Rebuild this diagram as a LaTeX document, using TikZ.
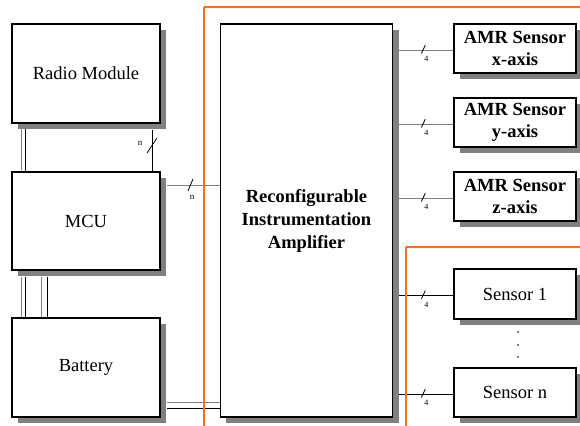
\documentclass[tikz,border=0pt]{standalone}
\usepackage{fontspec}
\setmainfont{Liberation Serif}
\usetikzlibrary{calc,shadows,backgrounds}
\definecolor{frameorange}{RGB}{250,110,20}
\definecolor{shadowgray}{RGB}{128,128,128}
\tikzset{
  blk/.style={draw=black, line width=1.2pt, fill=white, inner sep=0pt, align=center,
    font=\fontsize{18.5}{21}\selectfont,
    drop shadow={shadow xshift=6pt, shadow yshift=-6pt, fill=shadowgray, opacity=1}},
  bblk/.style={blk, font=\fontsize{18.5}{22}\selectfont\bfseries},
  ampblk/.style={blk, font=\fontsize{18.5}{23}\selectfont\bfseries},
  gline/.style={draw=shadowgray, line width=0.9pt},
  kline/.style={draw=black, line width=0.9pt},
  slash/.style={draw=black, line width=0.8pt},
  smalllab/.style={font=\fontsize{9}{9}\selectfont, inner sep=0pt},
  fourlab/.style={font=\fontsize{8}{8}\selectfont, inner sep=0pt},
  frame/.style={draw=frameorange, line width=1.6pt}
}
\begin{document}
\begin{tikzpicture}[x=1pt,y=-1pt]
\useasboundingbox (0,0) rectangle (580,425);
\clip (0,0) rectangle (580,425);
% nodes
\node[blk, minimum width=148pt, minimum height=99pt] (radio) at (86,73.5) {Radio Module};
\node[blk, minimum width=148pt, minimum height=98pt] (mcu) at (86,221) {MCU};
\node[blk, minimum width=148pt, minimum height=99pt] (batt) at (86,367.5) {Battery};
\node[ampblk, minimum width=172.5pt, minimum height=393pt] (amp) at (306.5,220.5) {Reconfigurable\\Instrumentation\\Amplifier};
\node[bblk, minimum width=122pt, minimum height=49pt] (amrx) at (515,48.5) {AMR Sensor\\x-axis};
\node[bblk, minimum width=122pt, minimum height=49pt] (amry) at (515,122.5) {AMR Sensor\\y-axis};
\node[bblk, minimum width=122pt, minimum height=49pt] (amrz) at (515,196.5) {AMR Sensor\\z-axis};
\node[blk, minimum width=122pt, minimum height=50pt] (s1) at (515,294) {Sensor 1};
\node[blk, minimum width=122pt, minimum height=49pt] (sn) at (515,392.5) {Sensor n};
% dots
\foreach \yy in {332,345,357}
  \fill (518,\yy) circle (0.8pt);
\begin{pgfonlayer}{background}
\fill[white] (0,0) rectangle (580,425);
% Radio - MCU
\draw[gline] ($(radio.south west)+(9.7,0)$) -- ($(mcu.north west)+(9.7,0)$);
\draw[kline] ($(radio.south west)+(14,0)$) -- ($(mcu.north west)+(14,0)$);
\draw[kline] ($(radio.south east)+(-8,6)$) coordinate (rm) -- ($(mcu.north east)+(-8,0)$);
\draw[slash] (147,153) -- (157,138);
\node[smalllab] (nlab1) at (140,143) {n};
% MCU - Battery
\draw[gline] ($(mcu.south west)+(9.7,6)$) -- ($(batt.north west)+(9.7,0)$);
\draw[kline] ($(mcu.south west)+(14,6)$) -- ($(batt.north west)+(14,0)$);
\draw[gline] ($(mcu.south west)+(30.3,6)$) -- ($(batt.north west)+(30.3,0)$);
\draw[kline] ($(mcu.south west)+(36,6)$) -- ($(batt.north west)+(36,0)$);
% MCU - Amp
\draw[gline] ($(mcu.east)+(6,-36)$) coordinate (ma) -- (ma -| amp.west);
\draw[slash] (188,191) -- (193,179);
\node[smalllab] (nlab2) at (192,197.5) {n};
% Battery - Amp
\draw[gline] ($(batt.east)+(6,34.5)$) coordinate (ba1) -- (ba1 -| amp.west);
\draw[kline] ($(batt.east)+(6,40.5)$) coordinate (ba2) -- (ba2 -| amp.west);
% Amp - AMR
\foreach \t in {amrx,amry,amrz}{
  \draw[gline] (\t.west -| amp.east) ++(6,1.5) coordinate (c\t) -- ($(\t.west)+(0,1.5)$);
  \draw[slash] ($(c\t)+(22,3.5)$) -- ($(c\t)+(26,-5)$);
  \node[fourlab] (l\t) at ($(c\t)+(27,9)$) {4};
}
% Amp - Sensors
\foreach \t in {s1,sn}{
  \draw[kline] (\t.west -| amp.east) ++(6,1.5) coordinate (c\t) -- ($(\t.west)+(0,1.5)$);
  \draw[slash] ($(c\t)+(22,3.5)$) -- ($(c\t)+(26,-5)$);
  \node[fourlab] (l\t) at ($(c\t)+(27,9)$) {4};
}
\end{pgfonlayer}
% orange frames
\draw[frame] (204,7) -- (600,7);
\draw[frame] (204,7) -- (204,440);
\draw[frame] (406,247) -- (600,247);
\draw[frame] (406,247) -- (406,440);
\end{tikzpicture}
\end{document}
